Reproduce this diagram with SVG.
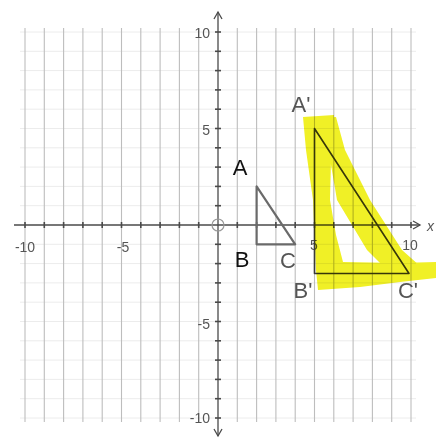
<svg xmlns="http://www.w3.org/2000/svg" width="436" height="440" viewBox="0 0 436 440">
<style>
.vg{stroke:#bdbdbd;stroke-width:1.1}
.hg{stroke:#ececec;stroke-width:1}
.ax{stroke:#4a4a4a;stroke-width:1.3;fill:none}
.tk{stroke:#4a4a4a;stroke-width:1.6}
.num{font-family:"Liberation Sans",Arial,sans-serif;font-size:14px;fill:#555}
.lbl{font-family:"Liberation Sans",Arial,sans-serif;font-size:22px}
.hl{fill:#f0f026}
</style>
<rect width="436" height="440" fill="#ffffff"/>
<g id="grid">
<g class="hg">
<line x1="20" y1="32" x2="416" y2="32"/><line x1="20" y1="51.3" x2="416" y2="51.3"/><line x1="20" y1="70.6" x2="416" y2="70.6"/><line x1="20" y1="89.9" x2="416" y2="89.9"/><line x1="20" y1="109.2" x2="416" y2="109.2"/><line x1="20" y1="128.5" x2="416" y2="128.5"/><line x1="20" y1="147.8" x2="416" y2="147.8"/><line x1="20" y1="167.1" x2="416" y2="167.1"/><line x1="20" y1="186.4" x2="416" y2="186.4"/><line x1="20" y1="205.7" x2="416" y2="205.7"/><line x1="20" y1="244.3" x2="416" y2="244.3"/><line x1="20" y1="263.6" x2="416" y2="263.6"/><line x1="20" y1="282.9" x2="416" y2="282.9"/><line x1="20" y1="302.2" x2="416" y2="302.2"/><line x1="20" y1="321.5" x2="416" y2="321.5"/><line x1="20" y1="340.8" x2="416" y2="340.8"/><line x1="20" y1="360.1" x2="416" y2="360.1"/><line x1="20" y1="379.4" x2="416" y2="379.4"/><line x1="20" y1="398.7" x2="416" y2="398.7"/><line x1="20" y1="418" x2="416" y2="418"/>
</g>
<g class="vg">
<line x1="25" y1="28" x2="25" y2="422"/><line x1="44.3" y1="28" x2="44.3" y2="422"/><line x1="63.6" y1="28" x2="63.6" y2="422"/><line x1="82.9" y1="28" x2="82.9" y2="422"/><line x1="102.2" y1="28" x2="102.2" y2="422"/><line x1="121.5" y1="28" x2="121.5" y2="422"/><line x1="140.8" y1="28" x2="140.8" y2="422"/><line x1="160.1" y1="28" x2="160.1" y2="422"/><line x1="179.4" y1="28" x2="179.4" y2="422"/><line x1="198.7" y1="28" x2="198.7" y2="422"/><line x1="237.3" y1="28" x2="237.3" y2="422"/><line x1="256.6" y1="28" x2="256.6" y2="422"/><line x1="275.9" y1="28" x2="275.9" y2="422"/><line x1="295.2" y1="28" x2="295.2" y2="422"/><line x1="314.5" y1="28" x2="314.5" y2="422"/><line x1="333.8" y1="28" x2="333.8" y2="422"/><line x1="353.1" y1="28" x2="353.1" y2="422"/><line x1="372.4" y1="28" x2="372.4" y2="422"/><line x1="391.7" y1="28" x2="391.7" y2="422"/><line x1="411" y1="28" x2="411" y2="422"/>
</g>
</g>
<g id="axes">
<line class="ax" x1="14" y1="225" x2="420" y2="225"/>
<polyline class="ax" points="413,221 420,225 413,229"/>
<line class="ax" x1="218" y1="12" x2="218" y2="436"/>
<polyline class="ax" points="214,19 218,12 222,19"/>
<polyline class="ax" points="214,429 218,436 222,429"/>
<circle cx="218" cy="225" r="6" fill="none" stroke="#9a9a9a" stroke-width="1.2"/>
<g class="tk">
<line x1="215" y1="32" x2="221" y2="32"/><line x1="215" y1="51.3" x2="221" y2="51.3"/><line x1="215" y1="70.6" x2="221" y2="70.6"/><line x1="215" y1="89.9" x2="221" y2="89.9"/><line x1="215" y1="109.2" x2="221" y2="109.2"/><line x1="215" y1="128.5" x2="221" y2="128.5"/><line x1="215" y1="147.8" x2="221" y2="147.8"/><line x1="215" y1="167.1" x2="221" y2="167.1"/><line x1="215" y1="186.4" x2="221" y2="186.4"/><line x1="215" y1="205.7" x2="221" y2="205.7"/><line x1="215" y1="244.3" x2="221" y2="244.3"/><line x1="215" y1="263.6" x2="221" y2="263.6"/><line x1="215" y1="282.9" x2="221" y2="282.9"/><line x1="215" y1="302.2" x2="221" y2="302.2"/><line x1="215" y1="321.5" x2="221" y2="321.5"/><line x1="215" y1="340.8" x2="221" y2="340.8"/><line x1="215" y1="360.1" x2="221" y2="360.1"/><line x1="215" y1="379.4" x2="221" y2="379.4"/><line x1="215" y1="398.7" x2="221" y2="398.7"/><line x1="215" y1="418" x2="221" y2="418"/>
<line x1="25" y1="222" x2="25" y2="228"/><line x1="44.3" y1="222" x2="44.3" y2="228"/><line x1="63.6" y1="222" x2="63.6" y2="228"/><line x1="82.9" y1="222" x2="82.9" y2="228"/><line x1="102.2" y1="222" x2="102.2" y2="228"/><line x1="121.5" y1="222" x2="121.5" y2="228"/><line x1="140.8" y1="222" x2="140.8" y2="228"/><line x1="160.1" y1="222" x2="160.1" y2="228"/><line x1="179.4" y1="222" x2="179.4" y2="228"/><line x1="198.7" y1="222" x2="198.7" y2="228"/><line x1="237.3" y1="222" x2="237.3" y2="228"/><line x1="256.6" y1="222" x2="256.6" y2="228"/><line x1="275.9" y1="222" x2="275.9" y2="228"/><line x1="295.2" y1="222" x2="295.2" y2="228"/><line x1="314.5" y1="222" x2="314.5" y2="228"/><line x1="333.8" y1="222" x2="333.8" y2="228"/><line x1="353.1" y1="222" x2="353.1" y2="228"/><line x1="372.4" y1="222" x2="372.4" y2="228"/><line x1="391.7" y1="222" x2="391.7" y2="228"/><line x1="411" y1="222" x2="411" y2="228"/>
</g>
<text class="num" x="25" y="252" text-anchor="middle">-10</text>
<text class="num" x="123" y="252" text-anchor="middle">-5</text>
<text class="num" x="314" y="250" text-anchor="middle">5</text>
<text class="num" x="410" y="250" text-anchor="middle">10</text>
<text class="num" x="210" y="38" text-anchor="end">10</text>
<text class="num" x="210" y="135" text-anchor="end">5</text>
<text class="num" x="210" y="329" text-anchor="end">-5</text>
<text class="num" x="210" y="423" text-anchor="end">-10</text>
<text class="num" x="427" y="231" font-style="italic">x</text>
</g>
<g id="triangle-ABC">
<polygon points="256.6,186.4 256.6,244.3 295.2,244.3" fill="none" stroke="#6a6a6a" stroke-width="2.2" stroke-linejoin="round"/>
<text class="lbl" x="240" y="175" text-anchor="middle" fill="#111">A</text>
<text class="lbl" x="242" y="267" text-anchor="middle" fill="#111">B</text>
<text class="lbl" x="288" y="268" text-anchor="middle" fill="#555">C</text>
</g>
<g id="triangle-A1B1C1">
<polygon points="314.5,128.5 314.5,273.5 409,273.5" fill="none" stroke="#3a3a3a" stroke-width="1.6" stroke-linejoin="round"/>
<text class="lbl" x="301" y="112" text-anchor="middle" fill="#555">A'</text>
<text class="lbl" x="303" y="298" text-anchor="middle" fill="#555">B'</text>
<text class="lbl" x="408" y="298" text-anchor="middle" fill="#555">C'</text>
</g>
<g id="highlight" style="mix-blend-mode:multiply">
<polygon class="hl" points="303,117 334,115 331,160 330,200 336,235 343,262 400,263 436,262 436,278 400,282 360,287 318,290 316,270 313,200 306,150"/>
<polygon class="hl" points="316,118 336,117 345,150 370,200 402,250 420,266 400,270 385,268 367,250 337,200 331,165 322,145"/>
</g>
</svg>
